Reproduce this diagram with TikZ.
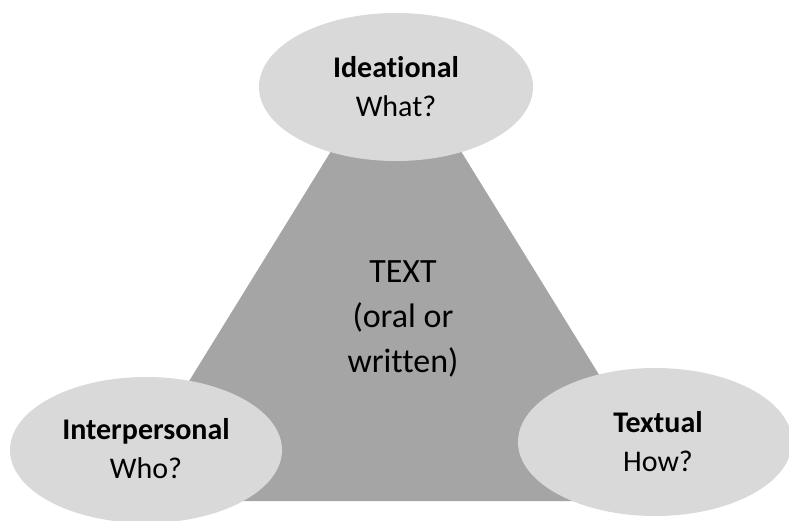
\documentclass[tikz,border=0pt]{standalone}
\usepackage{fontspec}
\setmainfont[Ligatures=NoCommon]{Carlito}
\usetikzlibrary{shapes.geometric}
\definecolor{tri}{HTML}{A5A5A5}
\definecolor{ell}{HTML}{D9D9D9}
\tikzset{
  bubble/.style={ellipse, fill=ell, draw=none, inner sep=0pt},
  head/.style={anchor=base, font=\fontsize{30}{36}\selectfont\bfseries, inner sep=0pt},
  sub/.style={anchor=base, font=\fontsize{30}{36}\selectfont, inner sep=0pt},
  big/.style={anchor=base, font=\fontsize{34}{40}\selectfont, inner sep=0pt}
}
\begin{document}
\begin{tikzpicture}[x=1pt,y=-1pt]
\useasboundingbox (0,0) rectangle (789,521);
\clip (0,0) rectangle (789,521);
\fill[tri] (396,46) -- (115,501) -- (677,501) -- cycle;
\node[bubble, minimum width=274pt, minimum height=148pt] (top) at (396,87) {};
\node[bubble, minimum width=272pt, minimum height=146pt] (left) at (146,450) {};
\node[bubble, minimum width=274pt, minimum height=148pt] (right) at (655,442) {};
\node[head] (h1) at (396,78) {Ideational};
\node[sub] (s1) at (396,117) {What?};
\node[head] (h2) at (146,439) {Interpersonal};
\node[sub] (s2) at (146,478) {Who?};
\node[head] (h3) at (658,432) {Textual};
\node[sub] (s3) at (658,471) {How?};
\node[big] (t1) at (403,282) {TEXT};
\node[big] (t2) at (403,327) {(oral or};
\node[big] (t3) at (403,372) {written)};
\end{tikzpicture}
\end{document}
